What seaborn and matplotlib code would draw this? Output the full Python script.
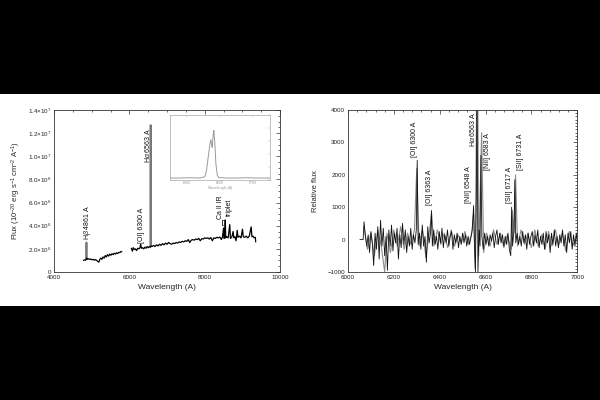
import matplotlib
matplotlib.use('Agg')
import matplotlib.pyplot as plt
from matplotlib.patches import Rectangle
from matplotlib.ticker import MultipleLocator, FixedLocator, FixedFormatter
import numpy as np
import pandas as pd
import seaborn as sns

# ---- left panel: full spectrum (flux in units of 1e6) ----
blue_wl = [4780, 4810, 4840, 4855, 4867, 4890, 4920, 4950, 4980, 5010, 5040, 5070,
           5100, 5130, 5160, 5190, 5210, 5240, 5270, 5300, 5330, 5360, 5390, 5420,
           5450, 5480, 5510, 5540, 5570, 5600, 5630, 5660, 5690, 5720, 5750, 5780, 5800]
blue_flux = [1.00, 1.05, 1.02, 1.10, 1.20, 1.10, 1.15, 1.08, 1.12, 1.05, 1.10, 1.02,
             1.08, 1.00, 0.92, 0.85, 1.05, 1.20, 1.10, 1.30, 1.20, 1.42, 1.30, 1.50,
             1.38, 1.55, 1.45, 1.58, 1.50, 1.62, 1.55, 1.66, 1.60, 1.70, 1.68, 1.78, 1.74]

red_wl = [6050, 6080, 6100, 6130, 6160, 6190, 6220, 6250, 6280, 6300, 6320, 6350,
          6380, 6410, 6440, 6470, 6500, 6530, 6555, 6571, 6600, 6640, 6680, 6720,
          6760, 6800, 6840, 6880, 6920, 6960, 7000, 7040, 7080, 7120, 7160, 7200,
          7240, 7280, 7320, 7360, 7400, 7440, 7480, 7520, 7560, 7600, 7640, 7680,
          7720, 7760, 7800, 7840, 7880, 7920, 7960, 8000, 8040, 8080, 8120, 8160,
          8200, 8240, 8280, 8320, 8360, 8400, 8440, 8470, 8498, 8510, 8530, 8542,
          8555, 8580, 8620, 8662, 8680, 8720, 8750, 8770, 8800, 8830, 8860, 8880,
          8920, 8960, 9000, 9020, 9060, 9100, 9140, 9180, 9230, 9250, 9280, 9310,
          9340, 9350]
red_flux = [2.05, 1.80, 2.10, 1.95, 2.00, 1.85, 2.05, 2.00, 2.10, 2.40, 2.05, 2.10,
            2.00, 2.15, 2.05, 2.20, 2.10, 2.20, 2.15, 2.25, 2.20, 2.30, 2.20, 2.35,
            2.25, 2.40, 2.30, 2.45, 2.35, 2.50, 2.40, 2.55, 2.45, 2.40, 2.50, 2.45,
            2.55, 2.50, 2.60, 2.55, 2.65, 2.60, 2.70, 2.65, 2.80, 2.55, 2.75, 2.80,
            2.75, 2.85, 2.80, 2.90, 2.70, 2.88, 2.85, 2.95, 2.90, 2.95, 2.85, 2.98,
            2.70, 2.95, 2.90, 3.00, 2.95, 3.02, 2.80, 3.05, 3.80, 2.90, 3.00, 4.50,
            2.95, 3.05, 2.95, 4.10, 2.90, 3.05, 3.50, 2.95, 3.05, 2.70, 3.60, 3.00,
            3.10, 2.95, 3.70, 3.05, 3.00, 3.10, 2.95, 3.10, 3.90, 3.05, 3.10, 2.95,
            3.00, 2.60]

# strong emission spikes drawn in grey (H-beta, H-alpha)
spike_wl = [4855, 4861, 4867, 6555, 6563, 6571]
spike_flux = [1.10, 2.55, 1.20, 2.15, 12.70, 2.25]
spike_id = [0, 0, 0, 1, 1, 1]

# inset: H-alpha line profile
inset_wl = [6450, 6480, 6510, 6540, 6555, 6560, 6565, 6570, 6573, 6575, 6577,
            6580, 6582, 6585, 6588, 6592, 6596, 6620, 6650, 6680, 6710, 6750]
inset_flux = [0.03, 0.03, 0.035, 0.03, 0.05, 0.15, 0.35, 0.55, 0.62, 0.55, 0.50,
              0.70, 0.76, 0.55, 0.25, 0.08, 0.04, 0.03, 0.03, 0.035, 0.03, 0.03]

left_labels = [(4876, 2.8e6, r'H$\beta$ 4861 A'),
               (6328, 2.5e6, '[OI] 6300 A'),
               (6470, 9.4e6, r'H$\alpha$ 6563 A'),
               (8407, 4.6e6, 'Ca II IR'),
               (8650, 4.8e6, 'triplet')]

# ---- right panel: continuum-subtracted spectrum ----
sub_wl = [6052, 6066, 6070, 6076, 6082, 6088, 6094, 6100, 6106, 6112, 6118, 6124,
          6130, 6136, 6142, 6148, 6154, 6160, 6166, 6172, 6178, 6184, 6190, 6196,
          6202, 6208, 6214, 6220, 6226, 6232, 6238, 6244, 6250, 6256, 6262, 6268,
          6274, 6280, 6286, 6292, 6298, 6302, 6306, 6312, 6318, 6324, 6330, 6336,
          6342, 6348, 6354, 6360, 6364, 6368, 6374, 6380, 6386, 6392, 6398, 6404,
          6410, 6416, 6422, 6428, 6434, 6440, 6446, 6452, 6458, 6464, 6470, 6476,
          6482, 6488, 6494, 6500, 6506, 6512, 6518, 6524, 6530, 6536, 6542, 6548,
          6552, 6556, 6560, 6563, 6567, 6572, 6576, 6580, 6584, 6590, 6596, 6602,
          6608, 6614, 6620, 6626, 6632, 6638, 6644, 6650, 6656, 6662, 6668, 6674,
          6680, 6686, 6692, 6698, 6704, 6710, 6714, 6718, 6724, 6728, 6732, 6738,
          6744, 6750, 6756, 6762, 6768, 6774, 6780, 6786, 6792, 6798, 6804, 6810,
          6816, 6822, 6828, 6834, 6840, 6846, 6852, 6858, 6864, 6870, 6876, 6882,
          6888, 6894, 6900, 6906, 6912, 6918, 6924, 6930, 6936, 6942, 6948, 6954,
          6960, 6966, 6972, 6978, 6984, 6990, 6996, 7000]
sub_flux = [0, 0, 550, 100, -200, 150, -400, 250, -100, -800, 200, -300,
            400, -600, 600, -200, 350, -500, 100, -950, 300, -200, 450, -350,
            200, -100, 350, -600, 150, -250, 500, -150, 300, -400, 100, -200,
            350, -300, 150, -100, 300, 2450, -150, 200, -300, 450, -200, 100,
            -700, 400, -100, 200, 900, -200, 300, -150, 100, -300, 250, -100,
            350, -250, 150, -100, 300, -200, 100, 250, -300, 150, -100, 200,
            -250, 100, -150, 200, -100, 150, -200, 100, -150, 50, 300, 1050,
            -200, -1000, 1500, 5000, -1000, 300, -200, 2600, 100, -300, 200, -150,
            100, -200, 150, -50, 200, -250, 100, 300, -150, 200, -100, 150,
            -200, 100, -150, 200, -300, -500, 1000, -200, 300, 1850, -100, 200,
            -150, 100, -200, 250, -100, 150, -300, 200, -150, 100, 250, -200,
            150, -100, 300, -250, 100, -150, 200, -300, 250, -100, 150, -400,
            200, -150, 300, -200, 100, -250, 150, -100, 300, -200, 150, -400,
            200, -100, 250, -300, 150, -200, 200, -100]

grey_wl = [6070, 6085, 6100, 6115, 6130, 6145, 6160, 6170, 6185, 6200, 6215, 6230,
           6245, 6260, 6275, 6290, 6300, 6310, 6325, 6340, 6355, 6365, 6375, 6390,
           6405, 6420, 6435, 6450, 6465, 6480, 6495, 6510, 6525, 6540, 6548, 6555,
           6562, 6566, 6570, 6583, 6592, 6605, 6620, 6635, 6650, 6665, 6680, 6695,
           6712, 6717, 6725, 6731, 6740, 6755, 6770, 6785, 6800, 6815, 6830, 6845,
           6860, 6875, 6890, 6905, 6920, 6935, 6950, 6965, 6980, 7000]
grey_flux = [400, -300, 200, -500, 300, -200, -1000, 200, -400, 300, -200, 400,
             -300, 200, -150, 300, 2200, -200, 300, -550, 250, 800, -200, 300,
             -150, 200, -250, 300, -200, 150, -100, 250, -150, 200, 800, -900,
             5000, 5000, -500, 3300, -400, 200, -200, 300, -150, 200, -250, 150,
             -300, 900, 200, 2000, -200, 300, -150, 200, -250, 300, -200, 150,
             -300, 250, -200, 300, -150, 200, -350, 250, -200, 150]

right_labels = [(6292, 2550, '[OI] 6300 A'),
                (6355, 1070, '[OI] 6363 A'),
                (6525, 1130, '[NII] 6548 A'),
                (6544, 2870, r'H$\alpha$ 6563 A'),
                (6608, 2150, '[NII] 6583 A'),
                (6704, 1130, '[SII] 6717 A'),
                (6751, 2150, '[SII] 6731 A')]

sns.set_theme(style='white')
plt.rcParams['font.family'] = ['Liberation Sans', 'DejaVu Sans']
plt.rcParams['mathtext.fontset'] = 'custom'
plt.rcParams['mathtext.rm'] = 'Liberation Sans'
plt.rcParams['mathtext.it'] = 'Liberation Sans:italic'

fig = plt.figure(figsize=(6, 4), dpi=100, facecolor='black')
fig.patches.append(Rectangle((0, 94 / 400), 1, 212 / 400, transform=fig.transFigure,
                             facecolor='white', edgecolor='none', zorder=-5))


def style_axes(ax):
    ax.set_facecolor('white')
    for s in ax.spines.values():
        s.set_color('#333333')
        s.set_linewidth(0.6)
    ax.tick_params(which='both', direction='in', top=True, right=True,
                   width=0.5, color='#333333', labelsize=4.5, pad=2, labelcolor='#222222')
    ax.tick_params(which='major', length=3)
    ax.tick_params(which='minor', length=1.5)


# left panel
ax1 = fig.add_axes([0.09, 0.32, 0.377, 0.405])
left_df = pd.concat([
    pd.DataFrame({'wl': blue_wl, 'flux': np.array(blue_flux) * 1e6, 'seg': 0}),
    pd.DataFrame({'wl': red_wl, 'flux': np.array(red_flux) * 1e6, 'seg': 1}),
])
spike_df = pd.DataFrame({'wl': spike_wl, 'flux': np.array(spike_flux) * 1e6, 'seg': spike_id})
sns.lineplot(data=spike_df, x='wl', y='flux', units='seg', estimator=None,
             color='#777777', lw=1.3, ax=ax1)
sns.lineplot(data=left_df, x='wl', y='flux', units='seg', estimator=None,
             color='black', lw=0.9, ax=ax1)
ax1.set_xlim(4000, 10000)
ax1.set_ylim(0, 1.4e7)
style_axes(ax1)
ax1.xaxis.set_major_locator(MultipleLocator(2000))
ax1.xaxis.set_minor_locator(MultipleLocator(500))
yt = [0, 2e6, 4e6, 6e6, 8e6, 1e7, 1.2e7, 1.4e7]
ylab = ['0'] + [r'$%s{\times}10^{%d}$' % (m, e) for m, e in
                [('2.0', 6), ('4.0', 6), ('6.0', 6), ('8.0', 6), ('1.0', 7), ('1.2', 7), ('1.4', 7)]]
ax1.yaxis.set_major_locator(FixedLocator(yt))
ax1.yaxis.set_major_formatter(FixedFormatter(ylab))
ax1.yaxis.set_minor_locator(MultipleLocator(5e5))
ax1.set_xlabel('Wavelength (A)', fontsize=6, labelpad=3)
ax1.set_ylabel(r'Flux (10$^{-20}$ erg s$^{-1}$ cm$^{-2}$ A$^{-1}$)', fontsize=5.5, labelpad=3)
for x, y, t in left_labels:
    ax1.text(x, y, t, rotation=90, ha='center', va='bottom', fontsize=5, color='#111111')
ax1.plot([8480, 8450, 8450, 8480], [4.1e6, 4.1e6, 4.5e6, 4.5e6], color='#111111', lw=0.6)

# inset
axi = fig.add_axes([0.283, 0.55, 0.167, 0.163])
inset_df = pd.DataFrame({'wl': inset_wl, 'flux': inset_flux})
sns.lineplot(data=inset_df, x='wl', y='flux', estimator=None, color='#9a9a9a', lw=0.7, ax=axi)
axi.set_xlim(6450, 6750)
axi.set_ylim(0, 1.0)
for s in axi.spines.values():
    s.set_color('#aaaaaa')
    s.set_linewidth(0.5)
axi.tick_params(which='both', direction='in', top=True, right=True, width=0.3,
                color='#aaaaaa', labelsize=2.5, labelcolor='#999999', pad=1, length=1.5)
axi.xaxis.set_major_locator(MultipleLocator(100))
axi.yaxis.set_major_locator(MultipleLocator(0.2))
axi.set_yticklabels([])
axi.set_xlabel('Wavelength (A)', fontsize=2.5, color='#999999', labelpad=0.5)
axi.set_ylabel('')

# right panel
ax2 = fig.add_axes([0.58, 0.32, 0.382, 0.405])
grey_df = pd.DataFrame({'wl': grey_wl, 'flux': grey_flux})
sub_df = pd.DataFrame({'wl': sub_wl, 'flux': sub_flux})
sns.lineplot(data=grey_df, x='wl', y='flux', estimator=None, color='#8c8c8c', lw=0.8, ax=ax2)
sns.lineplot(data=sub_df, x='wl', y='flux', estimator=None, color='#111111', lw=0.6, ax=ax2)
ax2.set_xlim(6000, 7000)
ax2.set_ylim(-1000, 4000)
style_axes(ax2)
ax2.xaxis.set_major_locator(MultipleLocator(200))
ax2.xaxis.set_minor_locator(MultipleLocator(40))
ax2.yaxis.set_major_locator(MultipleLocator(1000))
ax2.yaxis.set_minor_locator(MultipleLocator(100))
ax2.set_xlabel('Wavelength (A)', fontsize=6, labelpad=3)
ax2.set_ylabel('Relative flux', fontsize=5.5, labelpad=6)
for x, y, t in right_labels:
    ax2.text(x, y, t, rotation=90, ha='center', va='bottom', fontsize=5, color='#111111')

fig.savefig('out.png', dpi=100, facecolor=fig.get_facecolor())
